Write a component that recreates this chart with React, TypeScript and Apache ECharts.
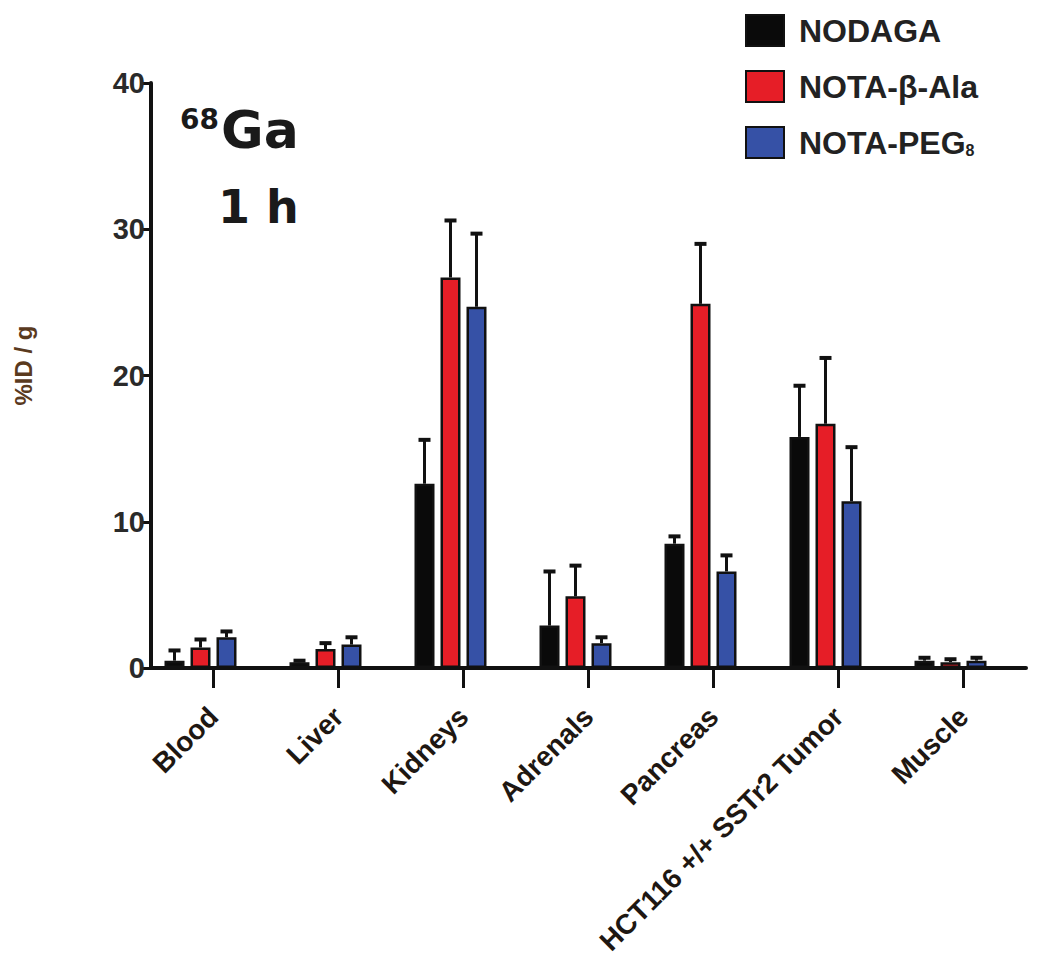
import React, { useEffect, useRef } from "react";
import * as echarts from "echarts";

const categories = [
  "Blood",
  "Liver",
  "Kidneys",
  "Adrenals",
  "Pancreas",
  "HCT116 +/+ SSTr2 Tumor",
  "Muscle",
];
const seriesNames = ["NODAGA", "NOTA-β-Ala", "NOTA-PEG8"];
const nodaga = [0.5, 0.4, 12.6, 2.9, 8.5, 15.8, 0.5];
const nodagaErr = [0.7, 0.1, 3.0, 3.7, 0.5, 3.5, 0.2];
const notaAla = [1.4, 1.3, 26.7, 4.9, 24.9, 16.7, 0.4];
const notaAlaErr = [0.55, 0.4, 3.9, 2.1, 4.1, 4.5, 0.2];
const notaPeg = [2.1, 1.6, 24.7, 1.7, 6.6, 11.4, 0.5];
const notaPegErr = [0.4, 0.5, 5.0, 0.4, 1.1, 3.7, 0.2];
const yTicks = [0, 10, 20, 30, 40];

const colors = ["#0a0a0a", "#e61e27", "#3651a6"];
const values = [nodaga, notaAla, notaPeg];
const errors = [nodagaErr, notaAlaErr, notaPegErr];
const pxOffsets = [-39, -13, 13];
const FONT = "Liberation Sans, Arial, sans-serif";

export default function App() {
  const ref = useRef<HTMLDivElement>(null);
  useEffect(() => {
    if (!ref.current) return;
    const chart = echarts.init(ref.current, null, { renderer: "svg" });
    const barSeries: any[] = values.map((vals, i) => ({
      name: seriesNames[i],
      type: "bar",
      data: vals,
      barWidth: 20,
      barGap: "30%",
      itemStyle: { color: colors[i], borderColor: "#111", borderWidth: 2.5 },
      z: 2,
    }));
    barSeries.push({
      name: "spacer",
      type: "bar",
      data: categories.map(() => null),
      barWidth: 20,
      barGap: "30%",
      itemStyle: { color: "transparent" },
    });
    const errSeries: any[] = values.map((vals, i) => ({
      type: "custom",
      name: seriesNames[i] + " err",
      z: 3,
      data: vals.map((v, j) => [j, v, errors[i][j]]),
      encode: { x: 0, y: 1 },
      renderItem: (params: any, api: any) => {
        const c = api.value(0);
        const v = api.value(1);
        const e = api.value(2);
        const base = api.coord([c, v]);
        const top = api.coord([c, v + e]);
        const x = base[0] + pxOffsets[i];
        return {
          type: "group",
          children: [
            { type: "line", shape: { x1: x, y1: base[1], x2: x, y2: top[1] }, style: { stroke: "#111", lineWidth: 3 } },
            { type: "line", shape: { x1: x - 6, y1: top[1], x2: x + 6, y2: top[1] }, style: { stroke: "#111", lineWidth: 4 } },
          ],
        };
      },
    }));

    const option: any = {
      animation: false,
      backgroundColor: "#ffffff",
      grid: { left: 151, right: 24, top: 83, bottom: 310, containLabel: false },
      legend: {
        data: seriesNames,
        orient: "vertical",
        left: 740,
        top: 9,
        itemWidth: 38,
        itemHeight: 31,
        itemGap: 23,
        icon: "rect",
        formatter: (name: string) =>
          name === "NOTA-PEG8" ? "NOTA-PEG{sub|8}" : name,
        textStyle: {
          fontFamily: FONT,
          fontWeight: "bold",
          fontSize: 32,
          lineHeight: 31,
          color: "#222",
          padding: [0, 0, 0, 10],
          rich: {
            sub: {
              fontFamily: FONT,
              fontWeight: "bold",
              fontSize: 16,
              color: "#222",
              padding: [16, 0, 0, 0],
            },
          },
        },
      },
      xAxis: {
        type: "category",
        data: categories,
        axisLine: { lineStyle: { color: "#111", width: 4 } },
        axisTick: {
          show: true,
          inside: false,
          alignWithLabel: true,
          length: 20,
          lineStyle: { color: "#111", width: 3 },
        },
        axisLabel: {
          rotate: 45,
          interval: 0,
          margin: 44,
          fontFamily: FONT,
          fontWeight: "bold",
          fontSize: 28,
          color: "#1e1712",
        },
      },
      yAxis: {
        type: "value",
        min: 0,
        max: 40,
        interval: 10,
        name: "%ID / g",
        nameLocation: "middle",
        nameGap: 116,
        nameTextStyle: {
          fontFamily: FONT,
          fontWeight: "bold",
          fontSize: 24,
          color: "#5a3a1e",
          padding: [0, 0, 0, 20],
        },
        axisLine: { show: true, lineStyle: { color: "#111", width: 4 } },
        axisTick: { show: true, length: 11, lineStyle: { color: "#111", width: 3 } },
        splitLine: { show: false },
        axisLabel: {
          margin: 6,
          fontFamily: FONT,
          fontWeight: "bold",
          fontSize: 29,
          color: "#2a2a2a",
          formatter: (v: number) => (yTicks.includes(v) ? String(v) : ""),
        },
      },
      graphic: [
        {
          type: "text",
          left: 180,
          top: 104,
          style: {
            text: "{sup|68}{big|Ga}",
            rich: {
              sup: {
                fontFamily: "DejaVu Sans, sans-serif",
                fontWeight: "bold",
                fontSize: 28,
                fill: "#1a1a1a",
                padding: [0, 2, 22, 0],
              },
              big: {
                fontFamily: "DejaVu Sans, sans-serif",
                fontWeight: "bold",
                fontSize: 52,
                fill: "#1a1a1a",
              },
            },
          },
        },
        {
          type: "text",
          left: 218,
          top: 184,
          style: {
            text: "1 h",
            fontFamily: "DejaVu Sans, sans-serif",
            fontWeight: "bold",
            fontSize: 46,
            fill: "#1a1a1a",
          },
        },
      ],
      series: [...barSeries, ...errSeries],
    };
    chart.setOption(option);
    return () => chart.dispose();
  }, []);
  return (
    <div
      ref={ref}
      style={{ position: "fixed", left: 0, top: 0, width: 1050, height: 978 }}
    />
  );
}
